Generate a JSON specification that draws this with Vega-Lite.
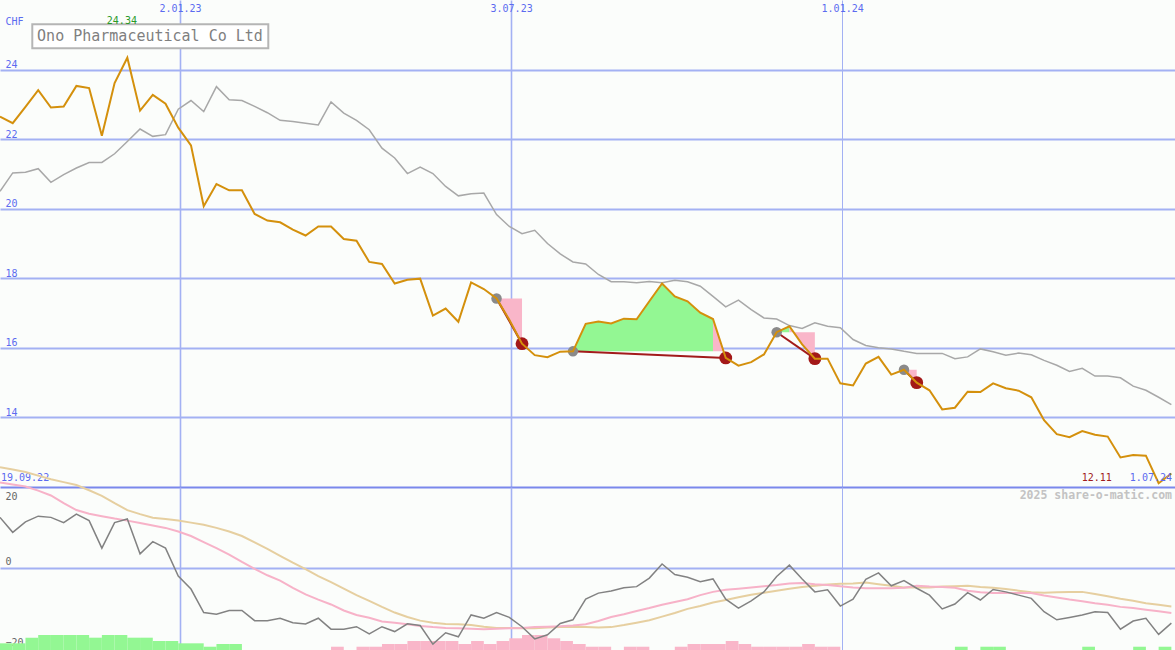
{
  "$schema": "https://vega.github.io/schema/vega-lite/v6.json",
  "background": "#fbfdfb",
  "padding": {"left": -4, "top": 0, "right": 0, "bottom": 0},
  "spacing": 0,
  "bounds": "flush",
  "config": {
    "view": {"stroke": null},
    "text": {"font": "DejaVu Sans Mono"},
    "axis": {"labelFont": "DejaVu Sans Mono", "titleFont": "DejaVu Sans Mono"}
  },
  "datasets": {
    "w": [
      {"d":"2022-09-25","price":22.65,"avg":20.50,"osc":12.5,"pk":21.1,"tn":24.9},
      {"d":"2022-10-02","price":22.46,"avg":21.03,"osc":8.8,"pk":20.6,"tn":24.3},
      {"d":"2022-10-09","price":22.93,"avg":21.05,"osc":11.4,"pk":20.1,"tn":23.7},
      {"d":"2022-10-16","price":23.41,"avg":21.15,"osc":12.8,"pk":19.1,"tn":22.8},
      {"d":"2022-10-23","price":22.91,"avg":20.76,"osc":12.5,"pk":17.9,"tn":21.9},
      {"d":"2022-10-30","price":22.94,"avg":20.98,"osc":11.2,"pk":16.0,"tn":21.2},
      {"d":"2022-11-06","price":23.53,"avg":21.17,"osc":13.3,"pk":14.3,"tn":20.5},
      {"d":"2022-11-13","price":23.47,"avg":21.33,"osc":11.7,"pk":13.4,"tn":19.2},
      {"d":"2022-11-20","price":22.10,"avg":21.33,"osc":4.9,"pk":12.8,"tn":17.8},
      {"d":"2022-11-27","price":23.61,"avg":21.58,"osc":11.2,"pk":12.2,"tn":16.0},
      {"d":"2022-12-04","price":24.34,"avg":21.93,"osc":12.1,"pk":11.7,"tn":14.3},
      {"d":"2022-12-11","price":22.82,"avg":22.29,"osc":3.5,"pk":11.1,"tn":13.3},
      {"d":"2022-12-18","price":23.27,"avg":22.08,"osc":6.5,"pk":10.5,"tn":12.4},
      {"d":"2022-12-25","price":23.02,"avg":22.13,"osc":4.9,"pk":9.9,"tn":12.1},
      {"d":"2023-01-01","price":22.33,"avg":22.86,"osc":-2.0,"pk":9.0,"tn":11.7},
      {"d":"2023-01-08","price":21.82,"avg":23.11,"osc":-5.2,"pk":7.9,"tn":11.2},
      {"d":"2023-01-15","price":20.07,"avg":22.79,"osc":-11.0,"pk":6.4,"tn":10.7},
      {"d":"2023-01-22","price":20.71,"avg":23.51,"osc":-11.4,"pk":4.9,"tn":9.9},
      {"d":"2023-01-29","price":20.53,"avg":23.13,"osc":-10.5,"pk":3.3,"tn":9.0},
      {"d":"2023-02-05","price":20.53,"avg":23.11,"osc":-10.5,"pk":1.5,"tn":7.9},
      {"d":"2023-02-12","price":19.85,"avg":22.94,"osc":-13.0,"pk":-0.2,"tn":6.3},
      {"d":"2023-02-19","price":19.66,"avg":22.76,"osc":-13.0,"pk":-1.8,"tn":4.7},
      {"d":"2023-02-26","price":19.61,"avg":22.54,"osc":-12.4,"pk":-3.1,"tn":3.0},
      {"d":"2023-03-05","price":19.40,"avg":22.51,"osc":-13.5,"pk":-4.9,"tn":1.3},
      {"d":"2023-03-12","price":19.23,"avg":22.46,"osc":-13.8,"pk":-6.5,"tn":-0.3},
      {"d":"2023-03-19","price":19.49,"avg":22.41,"osc":-12.4,"pk":-7.8,"tn":-2.0},
      {"d":"2023-03-26","price":19.49,"avg":23.07,"osc":-15.1,"pk":-9.0,"tn":-3.5},
      {"d":"2023-04-02","price":19.13,"avg":22.75,"osc":-15.1,"pk":-10.5,"tn":-5.1},
      {"d":"2023-04-09","price":19.08,"avg":22.54,"osc":-14.5,"pk":-11.6,"tn":-6.7},
      {"d":"2023-04-16","price":18.47,"avg":22.27,"osc":-16.3,"pk":-12.3,"tn":-8.1},
      {"d":"2023-04-23","price":18.41,"avg":21.74,"osc":-14.5,"pk":-13.2,"tn":-9.6},
      {"d":"2023-04-30","price":17.85,"avg":21.46,"osc":-15.7,"pk":-13.5,"tn":-11.0},
      {"d":"2023-05-07","price":17.96,"avg":21.01,"osc":-13.8,"pk":-13.9,"tn":-12.1},
      {"d":"2023-05-14","price":17.99,"avg":21.20,"osc":-14.2,"pk":-14.3,"tn":-13.0},
      {"d":"2023-05-21","price":16.93,"avg":21.01,"osc":-18.8,"pk":-14.6,"tn":-13.5},
      {"d":"2023-05-28","price":17.13,"avg":20.64,"osc":-16.0,"pk":-14.8,"tn":-13.8},
      {"d":"2023-06-04","price":16.75,"avg":20.37,"osc":-17.0,"pk":-14.9,"tn":-13.9},
      {"d":"2023-06-11","price":17.88,"avg":20.43,"osc":-11.6,"pk":-15.0,"tn":-14.1},
      {"d":"2023-06-18","price":17.69,"avg":20.45,"osc":-12.4,"pk":-15.1,"tn":-14.5},
      {"d":"2023-06-25","price":17.42,"avg":19.83,"osc":-11.0,"pk":-15.0,"tn":-14.8},
      {"d":"2023-07-02","price":16.81,"avg":19.49,"osc":-12.2,"pk":-14.9,"tn":-14.8},
      {"d":"2023-07-09","price":16.12,"avg":19.28,"osc":-14.5,"pk":-14.8,"tn":-14.9},
      {"d":"2023-07-16","price":15.79,"avg":19.38,"osc":-17.5,"pk":-14.6,"tn":-14.9},
      {"d":"2023-07-23","price":15.73,"avg":19.00,"osc":-16.5,"pk":-14.5,"tn":-14.7},
      {"d":"2023-07-30","price":15.89,"avg":18.70,"osc":-13.7,"pk":-14.4,"tn":-14.6},
      {"d":"2023-08-06","price":15.90,"avg":18.47,"osc":-12.8,"pk":-14.2,"tn":-14.5},
      {"d":"2023-08-13","price":16.69,"avg":18.41,"osc":-7.7,"pk":-13.9,"tn":-14.6},
      {"d":"2023-08-20","price":16.76,"avg":18.11,"osc":-6.2,"pk":-13.1,"tn":-14.7},
      {"d":"2023-08-27","price":16.70,"avg":17.90,"osc":-5.7,"pk":-12.1,"tn":-14.6},
      {"d":"2023-09-03","price":16.84,"avg":17.90,"osc":-4.9,"pk":-11.4,"tn":-14.1},
      {"d":"2023-09-10","price":16.82,"avg":17.87,"osc":-4.6,"pk":-10.6,"tn":-13.5},
      {"d":"2023-09-17","price":17.34,"avg":17.91,"osc":-2.5,"pk":-9.9,"tn":-12.9},
      {"d":"2023-09-24","price":17.85,"avg":17.87,"osc":1.0,"pk":-9.1,"tn":-12.0},
      {"d":"2023-10-01","price":17.48,"avg":17.94,"osc":-1.6,"pk":-8.4,"tn":-11.1},
      {"d":"2023-10-08","price":17.34,"avg":17.90,"osc":-2.3,"pk":-7.7,"tn":-10.1},
      {"d":"2023-10-15","price":17.01,"avg":17.77,"osc":-3.4,"pk":-6.7,"tn":-9.4},
      {"d":"2023-10-22","price":16.83,"avg":17.48,"osc":-2.7,"pk":-5.9,"tn":-8.5},
      {"d":"2023-10-29","price":15.71,"avg":17.18,"osc":-7.7,"pk":-5.4,"tn":-7.9},
      {"d":"2023-11-05","price":15.49,"avg":17.37,"osc":-9.9,"pk":-5.1,"tn":-7.2},
      {"d":"2023-11-12","price":15.59,"avg":17.10,"osc":-8.1,"pk":-4.8,"tn":-6.6},
      {"d":"2023-11-19","price":15.81,"avg":16.86,"osc":-5.9,"pk":-4.5,"tn":-6.1},
      {"d":"2023-11-26","price":16.45,"avg":16.83,"osc":-2.1,"pk":-4.2,"tn":-5.6},
      {"d":"2023-12-03","price":16.62,"avg":16.64,"osc":0.7,"pk":-3.8,"tn":-5.1},
      {"d":"2023-12-10","price":16.10,"avg":16.56,"osc":-2.7,"pk":-3.7,"tn":-4.7},
      {"d":"2023-12-17","price":15.69,"avg":16.72,"osc":-5.9,"pk":-4.0,"tn":-4.4},
      {"d":"2023-12-24","price":15.69,"avg":16.62,"osc":-5.4,"pk":-4.2,"tn":-4.1},
      {"d":"2023-12-31","price":14.98,"avg":16.58,"osc":-9.4,"pk":-4.5,"tn":-3.9},
      {"d":"2024-01-07","price":14.92,"avg":16.24,"osc":-7.7,"pk":-4.8,"tn":-3.8},
      {"d":"2024-01-14","price":15.55,"avg":16.07,"osc":-2.8,"pk":-5.0,"tn":-3.6},
      {"d":"2024-01-21","price":15.74,"avg":16.00,"osc":-1.2,"pk":-5.0,"tn":-4.0},
      {"d":"2024-01-28","price":15.23,"avg":15.97,"osc":-4.4,"pk":-5.0,"tn":-4.4},
      {"d":"2024-02-04","price":15.37,"avg":15.90,"osc":-3.1,"pk":-4.9,"tn":-4.8},
      {"d":"2024-02-11","price":15.00,"avg":15.84,"osc":-5.0,"pk":-4.4,"tn":-4.8},
      {"d":"2024-02-18","price":14.78,"avg":15.84,"osc":-6.7,"pk":-4.6,"tn":-4.8},
      {"d":"2024-02-25","price":14.23,"avg":15.84,"osc":-10.1,"pk":-4.7,"tn":-4.6},
      {"d":"2024-03-03","price":14.28,"avg":15.69,"osc":-8.9,"pk":-4.9,"tn":-4.5},
      {"d":"2024-03-10","price":14.74,"avg":15.74,"osc":-6.1,"pk":-5.6,"tn":-4.4},
      {"d":"2024-03-17","price":14.73,"avg":15.97,"osc":-7.9,"pk":-6.0,"tn":-4.7},
      {"d":"2024-03-24","price":14.98,"avg":15.89,"osc":-5.3,"pk":-6.2,"tn":-4.9},
      {"d":"2024-03-31","price":14.84,"avg":15.79,"osc":-5.9,"pk":-6.2,"tn":-5.2},
      {"d":"2024-04-07","price":14.77,"avg":15.85,"osc":-6.7,"pk":-6.2,"tn":-5.6},
      {"d":"2024-04-14","price":14.58,"avg":15.80,"osc":-7.5,"pk":-6.2,"tn":-6.0},
      {"d":"2024-04-21","price":13.92,"avg":15.64,"osc":-10.8,"pk":-6.8,"tn":-6.1},
      {"d":"2024-04-28","price":13.52,"avg":15.50,"osc":-12.8,"pk":-7.3,"tn":-6.0},
      {"d":"2024-05-05","price":13.43,"avg":15.32,"osc":-12.2,"pk":-7.8,"tn":-5.9},
      {"d":"2024-05-12","price":13.61,"avg":15.41,"osc":-11.6,"pk":-8.2,"tn":-5.9},
      {"d":"2024-05-19","price":13.50,"avg":15.19,"osc":-10.8,"pk":-8.7,"tn":-6.4},
      {"d":"2024-05-26","price":13.45,"avg":15.19,"osc":-11.0,"pk":-9.1,"tn":-7.0},
      {"d":"2024-06-02","price":12.85,"avg":15.14,"osc":-15.1,"pk":-9.6,"tn":-7.6},
      {"d":"2024-06-09","price":12.92,"avg":14.90,"osc":-13.1,"pk":-9.9,"tn":-8.1},
      {"d":"2024-06-16","price":12.90,"avg":14.78,"osc":-12.4,"pk":-10.3,"tn":-8.7},
      {"d":"2024-06-23","price":12.11,"avg":14.58,"osc":-16.4,"pk":-10.7,"tn":-9.1},
      {"d":"2024-06-30","price":12.39,"avg":14.37,"osc":-13.6,"pk":-11.1,"tn":-9.5}
    ],
    "bars": [
      {"d":"2022-09-25","d2":"2022-10-02","v":-18.60,"c":"g"},
      {"d":"2022-10-02","d2":"2022-10-09","v":-18.60,"c":"g"},
      {"d":"2022-10-09","d2":"2022-10-16","v":-17.21,"c":"g"},
      {"d":"2022-10-16","d2":"2022-10-23","v":-16.55,"c":"g"},
      {"d":"2022-10-23","d2":"2022-10-30","v":-16.55,"c":"g"},
      {"d":"2022-10-30","d2":"2022-11-06","v":-16.55,"c":"g"},
      {"d":"2022-11-06","d2":"2022-11-13","v":-16.55,"c":"g"},
      {"d":"2022-11-13","d2":"2022-11-20","v":-17.21,"c":"g"},
      {"d":"2022-11-20","d2":"2022-11-27","v":-16.55,"c":"g"},
      {"d":"2022-11-27","d2":"2022-12-04","v":-16.55,"c":"g"},
      {"d":"2022-12-04","d2":"2022-12-11","v":-17.21,"c":"g"},
      {"d":"2022-12-11","d2":"2022-12-18","v":-17.21,"c":"g"},
      {"d":"2022-12-18","d2":"2022-12-25","v":-18.03,"c":"g"},
      {"d":"2022-12-25","d2":"2023-01-01","v":-18.03,"c":"g"},
      {"d":"2023-01-01","d2":"2023-01-08","v":-18.60,"c":"g"},
      {"d":"2023-01-08","d2":"2023-01-15","v":-18.60,"c":"g"},
      {"d":"2023-01-15","d2":"2023-01-22","v":-19.44,"c":"g"},
      {"d":"2023-01-22","d2":"2023-01-29","v":-18.77,"c":"g"},
      {"d":"2023-01-29","d2":"2023-02-05","v":-18.77,"c":"g"},
      {"d":"2023-03-26","d2":"2023-04-02","v":-19.44,"c":"p"},
      {"d":"2023-04-09","d2":"2023-04-16","v":-19.44,"c":"p"},
      {"d":"2023-04-16","d2":"2023-04-23","v":-19.44,"c":"p"},
      {"d":"2023-04-23","d2":"2023-04-30","v":-18.77,"c":"p"},
      {"d":"2023-04-30","d2":"2023-05-07","v":-18.77,"c":"p"},
      {"d":"2023-05-07","d2":"2023-05-14","v":-18.03,"c":"p"},
      {"d":"2023-05-14","d2":"2023-05-21","v":-18.03,"c":"p"},
      {"d":"2023-05-21","d2":"2023-05-28","v":-18.03,"c":"p"},
      {"d":"2023-05-28","d2":"2023-06-04","v":-18.03,"c":"p"},
      {"d":"2023-06-04","d2":"2023-06-11","v":-18.77,"c":"p"},
      {"d":"2023-06-11","d2":"2023-06-18","v":-18.03,"c":"p"},
      {"d":"2023-06-18","d2":"2023-06-25","v":-18.77,"c":"p"},
      {"d":"2023-06-25","d2":"2023-07-02","v":-18.03,"c":"p"},
      {"d":"2023-07-02","d2":"2023-07-09","v":-17.36,"c":"p"},
      {"d":"2023-07-09","d2":"2023-07-16","v":-16.55,"c":"p"},
      {"d":"2023-07-16","d2":"2023-07-23","v":-16.55,"c":"p"},
      {"d":"2023-07-23","d2":"2023-07-30","v":-17.36,"c":"p"},
      {"d":"2023-07-30","d2":"2023-08-06","v":-18.03,"c":"p"},
      {"d":"2023-08-06","d2":"2023-08-13","v":-18.77,"c":"p"},
      {"d":"2023-08-13","d2":"2023-08-20","v":-19.44,"c":"p"},
      {"d":"2023-08-20","d2":"2023-08-27","v":-19.44,"c":"p"},
      {"d":"2023-09-03","d2":"2023-09-10","v":-19.44,"c":"p"},
      {"d":"2023-09-10","d2":"2023-09-17","v":-19.44,"c":"p"},
      {"d":"2023-10-01","d2":"2023-10-08","v":-19.44,"c":"p"},
      {"d":"2023-10-08","d2":"2023-10-15","v":-18.77,"c":"p"},
      {"d":"2023-10-15","d2":"2023-10-22","v":-18.77,"c":"p"},
      {"d":"2023-10-22","d2":"2023-10-29","v":-18.77,"c":"p"},
      {"d":"2023-10-29","d2":"2023-11-05","v":-18.03,"c":"p"},
      {"d":"2023-11-05","d2":"2023-11-12","v":-18.77,"c":"p"},
      {"d":"2023-11-12","d2":"2023-11-19","v":-19.44,"c":"p"},
      {"d":"2023-11-19","d2":"2023-11-26","v":-19.44,"c":"p"},
      {"d":"2023-11-26","d2":"2023-12-03","v":-19.44,"c":"p"},
      {"d":"2023-12-03","d2":"2023-12-10","v":-19.44,"c":"p"},
      {"d":"2023-12-10","d2":"2023-12-17","v":-18.77,"c":"p"},
      {"d":"2023-12-17","d2":"2023-12-24","v":-19.44,"c":"p"},
      {"d":"2023-12-24","d2":"2023-12-31","v":-19.44,"c":"p"},
      {"d":"2024-03-03","d2":"2024-03-10","v":-19.44,"c":"g"},
      {"d":"2024-03-17","d2":"2024-03-24","v":-19.44,"c":"g"},
      {"d":"2024-03-24","d2":"2024-03-31","v":-19.44,"c":"g"},
      {"d":"2024-05-12","d2":"2024-05-19","v":-19.44,"c":"g"},
      {"d":"2024-06-09","d2":"2024-06-16","v":-19.44,"c":"g"},
      {"d":"2024-06-23","d2":"2024-06-30","v":-19.44,"c":"g"}
    ],
    "fills": [
      {"run":"t1","c":"p","d":"2023-06-25","price":17.42,"lvl":17.42},
      {"run":"t1","c":"p","d":"2023-07-02","price":16.81,"lvl":17.42},
      {"run":"t1","c":"p","d":"2023-07-09","price":16.12,"lvl":17.42},
      {"run":"t2g","c":"g","d":"2023-08-06","price":15.90,"lvl":15.90},
      {"run":"t2g","c":"g","d":"2023-08-13","price":16.69,"lvl":15.90},
      {"run":"t2g","c":"g","d":"2023-08-20","price":16.76,"lvl":15.90},
      {"run":"t2g","c":"g","d":"2023-08-27","price":16.70,"lvl":15.90},
      {"run":"t2g","c":"g","d":"2023-09-03","price":16.84,"lvl":15.90},
      {"run":"t2g","c":"g","d":"2023-09-10","price":16.82,"lvl":15.90},
      {"run":"t2g","c":"g","d":"2023-09-17","price":17.34,"lvl":15.90},
      {"run":"t2g","c":"g","d":"2023-09-24","price":17.85,"lvl":15.90},
      {"run":"t2g","c":"g","d":"2023-10-01","price":17.48,"lvl":15.90},
      {"run":"t2g","c":"g","d":"2023-10-08","price":17.34,"lvl":15.90},
      {"run":"t2g","c":"g","d":"2023-10-15","price":17.01,"lvl":15.90},
      {"run":"t2g","c":"g","d":"2023-10-22","price":16.83,"lvl":15.90},
      {"run":"t2p","c":"p","d":"2023-10-22","price":16.83,"lvl":15.90},
      {"run":"t2p","c":"p","d":"2023-10-29","price":15.71,"lvl":15.90},
      {"run":"t3g","c":"g","d":"2023-11-26","price":16.45,"lvl":16.45},
      {"run":"t3g","c":"g","d":"2023-12-03","price":16.62,"lvl":16.45},
      {"run":"t3p","c":"p","d":"2023-12-03","price":16.62,"lvl":16.45},
      {"run":"t3p","c":"p","d":"2023-12-10","price":16.10,"lvl":16.45},
      {"run":"t3p","c":"p","d":"2023-12-17","price":15.69,"lvl":16.45},
      {"run":"t4","c":"p","d":"2024-02-04","price":15.37,"lvl":15.37},
      {"run":"t4","c":"p","d":"2024-02-11","price":15.00,"lvl":15.37}
    ],
    "trades": [
      {"trade":"t1","kind":"in","d":"2023-06-25","price":17.42},
      {"trade":"t1","kind":"out","d":"2023-07-09","price":16.12},
      {"trade":"t2","kind":"in","d":"2023-08-06","price":15.90},
      {"trade":"t2","kind":"out","d":"2023-10-29","price":15.71},
      {"trade":"t3","kind":"in","d":"2023-11-26","price":16.45},
      {"trade":"t3","kind":"out","d":"2023-12-17","price":15.69},
      {"trade":"t4","kind":"in","d":"2024-02-04","price":15.37},
      {"trade":"t4","kind":"out","d":"2024-02-11","price":15.00}
    ],
    "one": [{}]
  },
  "vconcat": [
    {
      "width": 1175,
      "height": 487,
      "layer": [
        {
          "data": {"name": "fills"},
          "mark": {"type": "area", "opacity": 1},
          "encoding": {
            "x": {
              "field": "d", "type": "temporal",
              "scale": {"type": "utc", "domain": [{"year": 2022, "month": 9, "date": 25, "utc": true}, {"year": 2024, "month": 7, "date": 2, "utc": true}]},
              "axis": {
                "orient": "top",
                "values": [{"year": 2023, "month": 1, "date": 2, "utc": true}, {"year": 2023, "month": 7, "date": 3, "utc": true}, {"year": 2024, "month": 1, "date": 1, "utc": true}],
                "labelExpr": "utcFormat(datum.value, '%-d.%m.%y')",
                "labelColor": "#5b6bf0", "labelFontSize": 10, "labelPadding": -13, "labelFlush": false,
                "ticks": false, "tickSize": 0, "domain": false,
                "grid": true, "gridColor": "#a3b1f3",
                "gridWidth": {"condition": {"test": "utcyear(datum.value) === 2024", "value": 1}, "value": 1.6},
                "title": null
              }
            },
            "y": {
              "field": "price", "type": "quantitative",
              "scale": {"domain": [12, 26], "nice": false, "zero": false},
              "axis": {
                "orient": "left",
                "values": [12, 14, 16, 18, 20, 22, 24],
                "labelExpr": "datum.value === 12 ? '' : datum.label",
                "labelAlign": "left", "labelBaseline": "alphabetic", "labelPadding": -5, "labelOffset": -2,
                "labelColor": "#5b6bf0", "labelFontSize": 10,
                "ticks": false, "tickSize": 0, "domain": false,
                "grid": true,
                "gridColor": {"condition": {"test": "datum.value === 12", "value": "#7a88ec"}, "value": "#a3b1f3"},
                "gridWidth": 2,
                "title": "CHF", "titleAngle": 0, "titleAlign": "left", "titleBaseline": "middle",
                "titleX": 5, "titleY": 21, "titleColor": "#5b6bf0", "titleFontSize": 10, "titleFontWeight": "normal"
              }
            },
            "y2": {"field": "lvl"},
            "color": {"field": "c", "type": "nominal", "scale": {"domain": ["g", "p"], "range": ["#93f793", "#f9b6c9"]}, "legend": null},
            "detail": {"field": "run"}
          }
        },
        {
          "data": {"name": "w"},
          "mark": {"type": "line", "color": "#a8a8a8", "strokeWidth": 1.5},
          "encoding": {
            "x": {"field": "d", "type": "temporal"},
            "y": {"field": "avg", "type": "quantitative"}
          }
        },
        {
          "data": {"name": "trades"},
          "mark": {"type": "line", "color": "#a21b1b", "strokeWidth": 2},
          "encoding": {
            "x": {"field": "d", "type": "temporal"},
            "y": {"field": "price", "type": "quantitative"},
            "detail": {"field": "trade"}
          }
        },
        {
          "data": {"name": "trades"},
          "transform": [{"filter": "datum.kind === 'in'"}],
          "mark": {"type": "circle", "opacity": 1, "color": "#8a8a8a", "size": 110},
          "encoding": {
            "x": {"field": "d", "type": "temporal"},
            "y": {"field": "price", "type": "quantitative"}
          }
        },
        {
          "data": {"name": "trades"},
          "transform": [{"filter": "datum.kind === 'out'"}],
          "mark": {"type": "circle", "opacity": 1, "color": "#a31818", "size": 165},
          "encoding": {
            "x": {"field": "d", "type": "temporal"},
            "y": {"field": "price", "type": "quantitative"}
          }
        },
        {
          "data": {"name": "w"},
          "mark": {"type": "line", "color": "#d4900c", "strokeWidth": 2},
          "encoding": {
            "x": {"field": "d", "type": "temporal"},
            "y": {"field": "price", "type": "quantitative"}
          }
        },
        {
          "data": {"name": "one"},
          "mark": {"type": "rect", "fill": "#ffffff", "stroke": "#b5b5b5", "strokeWidth": 2},
          "encoding": {
            "x": {"datum": {"year": 2022, "month": 10, "date": 12, "hours": 18, "utc": true}, "type": "temporal"},
            "x2": {"datum": {"year": 2023, "month": 2, "date": 19, "hours": 12, "utc": true}},
            "y": {"datum": 25.30, "type": "quantitative"},
            "y2": {"datum": 24.61}
          }
        },
        {
          "data": {"name": "one"},
          "mark": {"type": "text", "align": "center", "baseline": "middle", "fontSize": 15, "color": "#7f7f7f"},
          "encoding": {
            "x": {"datum": {"year": 2022, "month": 12, "date": 16, "hours": 11, "utc": true}, "type": "temporal"},
            "y": {"datum": 24.955, "type": "quantitative"},
            "text": {"value": "Ono Pharmaceutical Co Ltd"}
          }
        },
        {
          "data": {"name": "one"},
          "mark": {"type": "text", "align": "center", "baseline": "middle", "fontSize": 10, "color": "#2a9a2a"},
          "encoding": {
            "x": {"datum": {"year": 2022, "month": 12, "date": 1, "utc": true}, "type": "temporal"},
            "y": {"datum": 25.40, "type": "quantitative"},
            "text": {"value": "24.34"}
          }
        },
        {
          "data": {"name": "one"},
          "mark": {"type": "text", "align": "left", "baseline": "middle", "fontSize": 10, "color": "#5b6bf0", "dx": 1},
          "encoding": {
            "x": {"datum": {"year": 2022, "month": 9, "date": 25, "utc": true}, "type": "temporal"},
            "y": {"datum": 12.26, "type": "quantitative"},
            "text": {"value": "19.09.22"}
          }
        },
        {
          "data": {"name": "one"},
          "mark": {"type": "text", "align": "right", "baseline": "middle", "fontSize": 10, "color": "#5b6bf0", "dx": -3},
          "encoding": {
            "x": {"datum": {"year": 2024, "month": 7, "date": 2, "utc": true}, "type": "temporal"},
            "y": {"datum": 12.26, "type": "quantitative"},
            "text": {"value": "1.07.24"}
          }
        },
        {
          "data": {"name": "one"},
          "mark": {"type": "text", "align": "center", "baseline": "middle", "fontSize": 10, "color": "#a01c1c"},
          "encoding": {
            "x": {"datum": {"year": 2024, "month": 5, "date": 20, "utc": true}, "type": "temporal"},
            "y": {"datum": 12.26, "type": "quantitative"},
            "text": {"value": "12.11"}
          }
        }
      ]
    },
    {
      "width": 1175,
      "height": 163,
      "layer": [
        {
          "data": {"name": "bars"},
          "mark": {"type": "bar", "opacity": 1},
          "encoding": {
            "x": {
              "field": "d", "type": "temporal",
              "scale": {"type": "utc", "domain": [{"year": 2022, "month": 9, "date": 25, "utc": true}, {"year": 2024, "month": 7, "date": 2, "utc": true}]},
              "axis": {
                "orient": "bottom",
                "values": [{"year": 2023, "month": 1, "date": 2, "utc": true}, {"year": 2023, "month": 7, "date": 3, "utc": true}, {"year": 2024, "month": 1, "date": 1, "utc": true}],
                "labels": false, "ticks": false, "tickSize": 0, "domain": false,
                "grid": true, "gridColor": "#a3b1f3",
                "gridWidth": {"condition": {"test": "utcyear(datum.value) === 2024", "value": 1}, "value": 1.6},
                "title": null
              }
            },
            "x2": {"field": "d2"},
            "y": {
              "field": "v", "type": "quantitative",
              "scale": {"domain": [-20.25, 20], "nice": false, "zero": false},
              "axis": {
                "orient": "left",
                "values": [-20, 0, 20],
                "labelAlign": "left",
                "labelBaseline": {"condition": {"test": "datum.value === 20", "value": "top"}, "value": "alphabetic"},
                "labelOffset": {"condition": {"test": "datum.value === 20", "value": 4}, "value": -3},
                "labelPadding": -5,
                "labelColor": "#666666", "labelFontSize": 10,
                "ticks": false, "tickSize": 0, "domain": false,
                "grid": true, "gridColor": "#a3b1f3", "gridWidth": 2,
                "gridOpacity": {"condition": {"test": "datum.value === 0", "value": 1}, "value": 0},
                "title": null
              }
            },
            "y2": {"datum": -20.25},
            "color": {"field": "c", "type": "nominal", "scale": {"domain": ["g", "p"], "range": ["#93f793", "#f9b6c9"]}, "legend": null}
          }
        },
        {
          "data": {"name": "w"},
          "mark": {"type": "line", "color": "#e6cfa0", "strokeWidth": 2, "clip": false},
          "encoding": {
            "x": {"field": "d", "type": "temporal"},
            "y": {"field": "tn", "type": "quantitative"}
          }
        },
        {
          "data": {"name": "w"},
          "mark": {"type": "line", "color": "#f7b2c8", "strokeWidth": 2, "clip": false},
          "encoding": {
            "x": {"field": "d", "type": "temporal"},
            "y": {"field": "pk", "type": "quantitative"}
          }
        },
        {
          "data": {"name": "w"},
          "mark": {"type": "line", "color": "#828282", "strokeWidth": 1.5, "clip": false},
          "encoding": {
            "x": {"field": "d", "type": "temporal"},
            "y": {"field": "osc", "type": "quantitative"}
          }
        },
        {
          "data": {"name": "one"},
          "mark": {"type": "text", "align": "right", "baseline": "middle", "fontSize": 11.5, "fontWeight": "bold", "color": "#c3c3c3", "dx": -3},
          "encoding": {
            "x": {"datum": {"year": 2024, "month": 7, "date": 2, "utc": true}, "type": "temporal"},
            "y": {"datum": 17.78, "type": "quantitative"},
            "text": {"value": "2025 share-o-matic.com"}
          }
        }
      ]
    }
  ],
  "resolve": {"scale": {"x": "independent", "y": "independent"}}
}
